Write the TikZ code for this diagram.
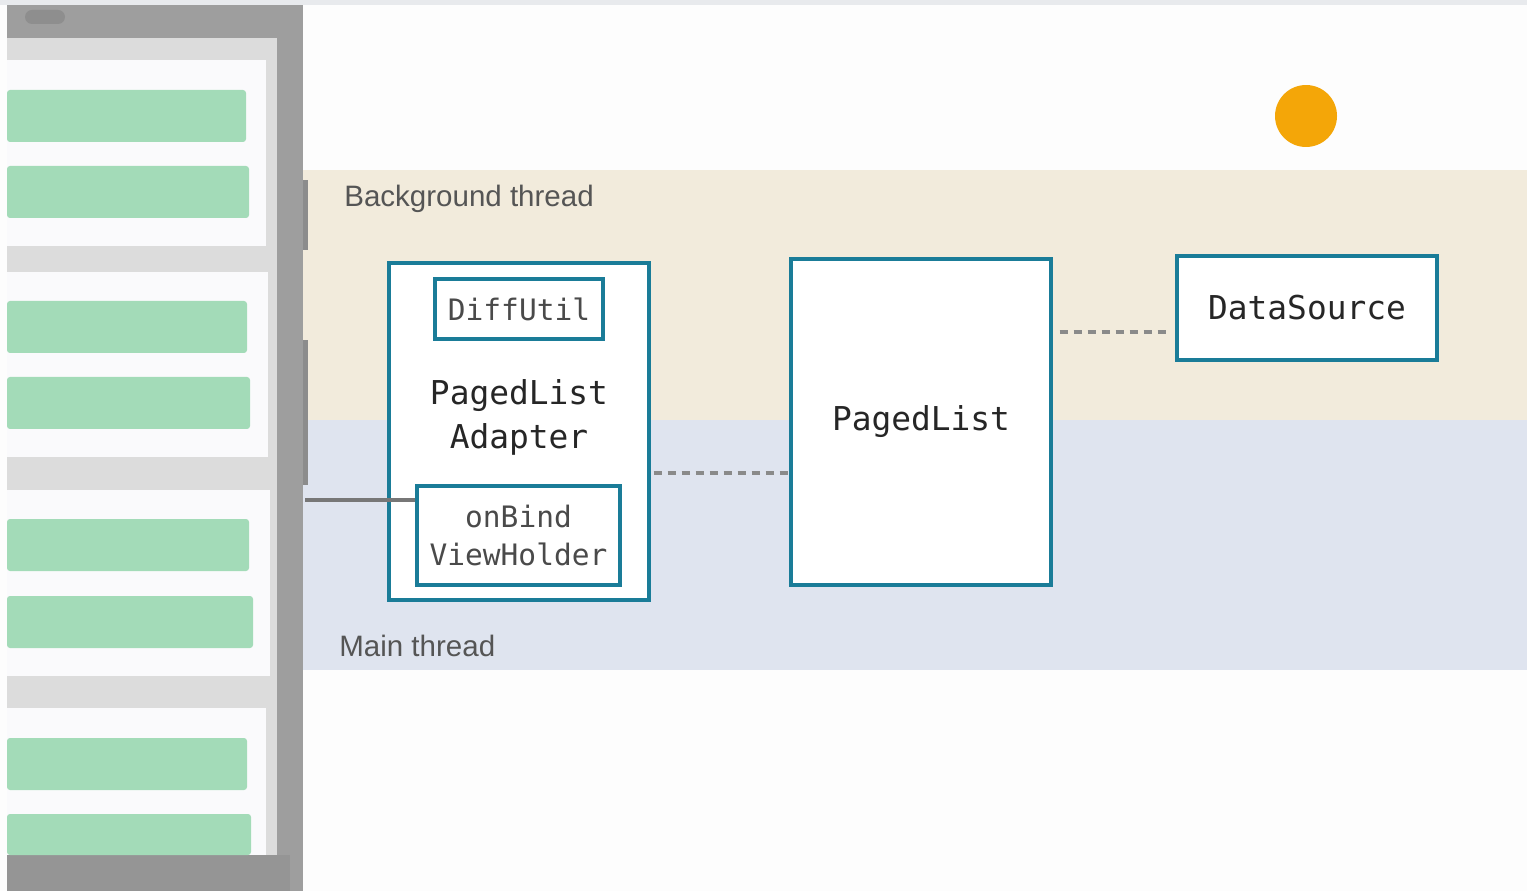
\documentclass[tikz,border=0pt]{standalone}
\usepackage{fontspec}
\setmainfont{Liberation Sans}
\newfontfamily\codefont{DejaVu Sans Mono}
\usetikzlibrary{positioning}
\usetikzlibrary{shadows}

\definecolor{pagewhite}{HTML}{FDFDFD}
\definecolor{topstrip}{HTML}{E8EAED}
\definecolor{framegray}{HTML}{9E9E9E}
\definecolor{tabgray}{HTML}{8C8C8C}
\definecolor{pillgray}{HTML}{8E8E8E}
\definecolor{screengray}{HTML}{DCDCDC}
\definecolor{bargray}{HTML}{959595}
\definecolor{cardwhite}{HTML}{FAFAFC}
\definecolor{rowgreen}{HTML}{A3DBB8}
\definecolor{bgthread}{HTML}{F2EBDC}
\definecolor{mainthread}{HTML}{DFE4EF}
\definecolor{boxteal}{HTML}{1A7C98}
\definecolor{dotorange}{HTML}{F4A608}
\definecolor{linkgray}{HTML}{8A8A8A}
\definecolor{wiregray}{HTML}{777777}
\definecolor{labelgray}{HTML}{555555}
\definecolor{codegray}{HTML}{4A4A4A}

\tikzset{
  box/.style={draw=boxteal,line width=2pt,fill=white,inner sep=0pt,align=center,
    drop shadow={opacity=0.18,shadow xshift=0.6pt,shadow yshift=-1.2pt}},
  bigcode/.style={font=\codefont\fontsize{18.7}{25}\selectfont,text=black!85},
  smallcode/.style={font=\codefont\fontsize{16.8}{22}\selectfont,text=codegray},
  threadlabel/.style={font=\fontsize{16.8}{20}\selectfont,text=labelgray,anchor=west,inner sep=0pt},
  link/.style={draw=linkgray,line width=2pt,dash pattern=on 0.16cm off 0.12cm},
  wire/.style={draw=wiregray,line width=2.2pt}
}

\begin{document}
\begin{tikzpicture}[x=0.02cm,y=-0.02cm]
	\useasboundingbox (0,0) rectangle (1527,891);
	\fill[pagewhite] (0,0) rectangle (1527,891);
	\fill[topstrip] (0,0) rectangle (1527,5);
	% thread bands
	\fill[bgthread] (303,170) rectangle (1527,420);
	\fill[mainthread] (303,420) rectangle (1527,670);
	\node[threadlabel] (bglabel) at (344,199) {Background thread};
	\node[threadlabel] (mainlabel) at (339,646) {Main thread};
	% phone
	\fill[framegray] (7,5) rectangle (303,891);
	\fill[tabgray] (303,180) rectangle (308,250);
	\fill[tabgray] (303,340) rectangle (308,485);
	\fill[pillgray,rounded corners=0.14cm] (25,10) rectangle (65,24);
	\fill[screengray] (7,38) rectangle (277,855);
	\fill[bargray] (7,855) rectangle (290,891);
	\foreach \t/\b/\r in {60/246/266, 272/457/268, 490/676/270, 708/855/266}
		\fill[cardwhite] (7,\t) rectangle (\r,\b);
	\foreach \t/\b/\r in {90/142/246, 166/218/249, 301/353/247, 377/429/250,
		519/571/249, 596/648/253, 738/790/247, 814/855/251}
		\fill[rowgreen,rounded corners=0.06cm] (7,\t) rectangle (\r,\b);
	% the dot
	\node[circle,fill=dotorange,minimum size=1.24cm,inner sep=0pt] (dot) at (1306,116) {};
	% boxes
	\node[box,minimum width=5.2cm,minimum height=6.74cm] (adapter) at (519,431.5) {};
	\node[box,smallcode,minimum width=3.36cm,minimum height=1.2cm] (diffutil) at (519,309) {DiffUtil};
	\node[bigcode,align=center] (adaptername) at (519,417) {PagedList\\Adapter};
	\node[box,smallcode,minimum width=4.06cm,minimum height=1.98cm] (onbind) at (518.5,535.5) {onBind\\ViewHolder};
	\node[box,bigcode,minimum width=5.2cm,minimum height=6.52cm] (pagedlist) at (921,422) {PagedList};
	\node[box,bigcode,minimum width=5.2cm,minimum height=2.08cm] (datasource) at (1307,308) {DataSource};
	% connectors
	\coordinate (lowlink) at (720,473);
	\coordinate (highlink) at (1114,332);
	\coordinate (screenedge) at (305,500);
	\draw[link,shorten <=0.06cm] (adapter.east |- lowlink) -- (pagedlist.west |- lowlink);
	\draw[link,shorten <=0.14cm,shorten >=0.14cm] (pagedlist.east |- highlink) -- (datasource.west |- highlink);
	\draw[wire] (screenedge) -- (onbind.west |- screenedge);
\end{tikzpicture}
\end{document}
